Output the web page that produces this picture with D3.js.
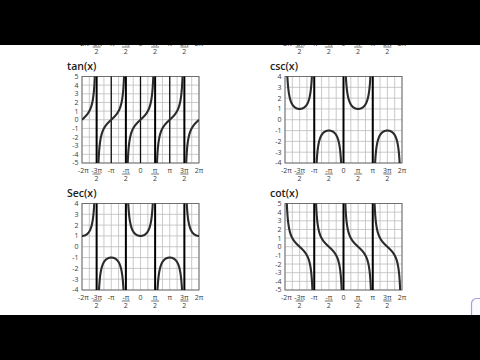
<!DOCTYPE html>
<html><head><meta charset="utf-8">
<script src="https://cdn.jsdelivr.net/npm/d3@7"></script>
<style>html,body{margin:0;padding:0;background:#fff;overflow:hidden}</style>
</head><body>
<svg id="c" width="480" height="360"></svg>
<script>
// ---- data ----
const PI = Math.PI;
const panelNames = ["tan(x)", "csc(x)", "Sec(x)", "cot(x)"];
const panelFuncs = ["tan", "csc", "sec", "cot"];
const yMaxes = [5, 4, 4, 5];
// asymptote positions in multiples of π
const asymptotes = [
  [-1.5, -0.5, 0.5, 1.5],
  [-1, 0, 1],
  [-1.5, -0.5, 0.5, 1.5],
  [-1, 0, 1]
];
// curve branch break points in multiples of π
const branchBreaks = [
  [-2, -1.5, -0.5, 0.5, 1.5, 2],
  [-2, -1, 0, 1, 2],
  [-2, -1.5, -0.5, 0.5, 1.5, 2],
  [-2, -1, 0, 1, 2]
];
// extra dark vertical lines seen in the tan panel
const tanExtraLines = [-1, 0, 1];
const xTickValues = [-2, -1.5, -1, -0.5, 0, 0.5, 1, 1.5, 2];
const xTickNums = ["-2π", "-3π", "-π", "-π", "0", "π", "π", "3π", "2π"];
const xTickDens = ["", "2", "", "2", "", "2", "", "2", ""];

// ---- layout ----
const cols = [{l: 82, r: 199}, {l: 285, r: 402}];
const rows = [{t: 76.5, b: 163}, {t: 203.5, b: 290}];
const fn = {
  tan: Math.tan,
  csc: x => 1 / Math.sin(x),
  sec: x => 1 / Math.cos(x),
  cot: x => Math.cos(x) / Math.sin(x)
};

const svg = d3.select("#c");
svg.append("rect").attr("width", 480).attr("height", 360).attr("fill", "#fff");
const FONT = "'Open Sans', 'Noto Sans', sans-serif";

function xLabels(g, x, bottom) {
  xTickValues.forEach((v, i) => {
    const cx = x(v * PI) + (i === 0 ? 1.5 : 0);
    g.append("text").attr("x", cx).attr("y", bottom + 9.5)
      .attr("text-anchor", "middle").attr("font-size", 7).attr("fill", "#3a3a3a")
      .attr("font-family", FONT).text(xTickNums[i]);
    if (xTickDens[i]) {
      g.append("line").attr("x1", cx - 4).attr("x2", cx + 4)
        .attr("y1", bottom + 11).attr("y2", bottom + 11)
        .attr("stroke", "#3a3a3a").attr("stroke-width", 0.7);
      g.append("text").attr("x", cx).attr("y", bottom + 17.5)
        .attr("text-anchor", "middle").attr("font-size", 7).attr("fill", "#3a3a3a")
        .attr("font-family", FONT).text(xTickDens[i]);
    }
  });
}

panelFuncs.forEach((name, p) => {
  const c = cols[p % 2], r = rows[Math.floor(p / 2)];
  const ymax = yMaxes[p];
  const x = d3.scaleLinear().domain([-2 * PI, 2 * PI]).range([c.l, c.r]);
  const y = d3.scaleLinear().domain([-ymax, ymax]).range([r.b, r.t]);
  const g = svg.append("g");

  // title
  g.append("text").attr("x", c.l - 15).attr("y", r.t - 7)
    .attr("font-size", 10.5).attr("font-weight", 600).attr("fill", "#222")
    .attr("font-family", FONT).text(panelNames[p]);

  // grid
  const vgrid = d3.range(-8, 9).map(k => k * PI / 4);
  g.selectAll(".vg").data(vgrid).join("line")
    .attr("x1", d => x(d)).attr("x2", d => x(d))
    .attr("y1", r.t).attr("y2", r.b)
    .attr("stroke", "#bdbdbd").attr("stroke-width", 0.8);
  const hgrid = d3.range(-ymax, ymax + 1);
  g.selectAll(".hg").data(hgrid).join("line")
    .attr("x1", c.l).attr("x2", c.r)
    .attr("y1", d => y(d)).attr("y2", d => y(d))
    .attr("stroke", "#bdbdbd").attr("stroke-width", 0.8);

  // border
  g.append("rect").attr("x", c.l).attr("y", r.t)
    .attr("width", c.r - c.l).attr("height", r.b - r.t)
    .attr("fill", "none").attr("stroke", "#666").attr("stroke-width", 0.9);

  // extra dark lines (tan)
  if (name === "tan") {
    g.selectAll(".ex").data(tanExtraLines).join("line")
      .attr("x1", d => x(d * PI)).attr("x2", d => x(d * PI))
      .attr("y1", r.t).attr("y2", r.b)
      .attr("stroke", "#111").attr("stroke-width", 1.3);
  }
  // asymptotes
  g.selectAll(".as").data(asymptotes[p]).join("line")
    .attr("x1", d => x(d * PI)).attr("x2", d => x(d * PI))
    .attr("y1", r.t).attr("y2", r.b)
    .attr("stroke", "#000").attr("stroke-width", 2);

  // y labels
  g.selectAll(".yl").data(hgrid).join("text")
    .attr("x", c.l - 3.5).attr("y", d => y(d)).attr("dy", "0.35em")
    .attr("text-anchor", "end").attr("font-size", 7).attr("fill", "#3a3a3a")
    .attr("font-family", FONT).text(d => String(d));

  // x labels
  xLabels(g, x, r.b);

  // curves
  const clipId = "clip" + p;
  svg.append("clipPath").attr("id", clipId).append("rect")
    .attr("x", c.l).attr("y", r.t).attr("width", c.r - c.l).attr("height", r.b - r.t);
  const br = branchBreaks[p];
  const line = d3.line().x(d => x(d[0])).y(d => y(d[1]));
  const lim = ymax * 1.6;
  for (let i = 0; i < br.length - 1; i++) {
    const a = br[i] * PI, b = br[i + 1] * PI;
    const pts = d3.range(0, 401).map(k => {
      const xv = a + (b - a) * (0.0005 + 0.999 * k / 400);
      let yv = fn[name](xv);
      yv = Math.max(-lim, Math.min(lim, yv));
      return [xv, yv];
    });
    g.append("path").attr("d", line(pts)).attr("clip-path", `url(#${clipId})`)
      .attr("fill", "none").attr("stroke", "#2b2b2b").attr("stroke-width", 2.1)
      .attr("stroke-linejoin", "round");
  }
});

// partial tick labels of the previous row (cut by the black band)
cols.forEach(c => {
  const x = d3.scaleLinear().domain([-2 * PI, 2 * PI]).range([c.l, c.r]);
  xLabels(svg.append("g"), x, 36);
});

// black bands
svg.append("rect").attr("x", 0).attr("y", 0).attr("width", 480).attr("height", 45).attr("fill", "#000");
// small UI corner at bottom right
svg.append("rect").attr("x", 471.5).attr("y", 298.5).attr("width", 20).attr("height", 30).attr("rx", 5)
  .attr("fill", "#fbfaff").attr("stroke", "#a79ddf").attr("stroke-width", 1.2);
svg.append("rect").attr("x", 0).attr("y", 315).attr("width", 480).attr("height", 45).attr("fill", "#000");
</script>
</body></html>
